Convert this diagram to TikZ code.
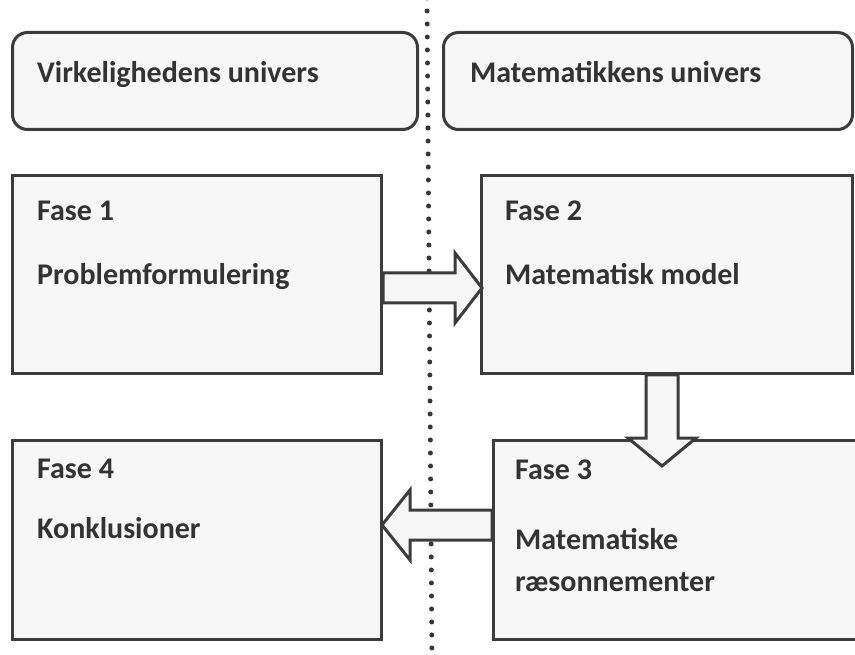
\documentclass[tikz,border=0pt]{standalone}
\usepackage{fontspec}
\setmainfont{Carlito}
\usetikzlibrary{calc}
\definecolor{edge}{HTML}{3C3C3C}
\definecolor{boxfill}{HTML}{F7F7F7}
\begin{document}
\begin{tikzpicture}[x=1pt,y=-1pt,
  box/.style={draw=edge,fill=boxfill,line width=3pt,anchor=north west,inner sep=0pt},
  rbox/.style={box,rounded corners=15pt},
  lbl/.style={anchor=base west,inner sep=0pt,text=edge!85!black,font=\fontsize{30}{36}\selectfont\bfseries},
  blockarrow/.style={draw=edge,fill=boxfill,line width=3pt,line join=miter},
  divider/.style={draw=edge!90!black,line width=5pt,line cap=round,dash pattern=on 0pt off 13pt}]
\useasboundingbox (0,0) rectangle (855,655);
\fill[white] (0,0) rectangle (855,655);
% divider
\coordinate (dtop) at (427,-2);
\coordinate (dbot) at (432,660);
\draw[divider] (dtop) -- (dbot);
% header boxes
\node[rbox,minimum width=405pt,minimum height=97pt] (tl) at (11,31) {};
\node[rbox,minimum width=409pt,minimum height=97pt] (tr) at (442,31) {};
\node[lbl] (tlt) at (37,83) {Virkelighedens univers};
\node[lbl] (trt) at (470,83) {Matematikkens univers};
% phase boxes
\node[box,minimum width=369pt,minimum height=198pt] (f1) at (11,174) {};
\node[box,minimum width=371pt,minimum height=198pt] (f2) at (480,174) {};
\node[box,minimum width=369pt,minimum height=199pt] (f4) at (11,439) {};
\node[box,minimum width=380pt,minimum height=199pt] (f3) at (492,439) {};
\node[lbl] (f1a) at (37,221) {Fase 1};
\node[lbl] (f1b) at (37,285) {Problemformulering};
\node[lbl] (f2a) at (505,221) {Fase 2};
\node[lbl] (f2b) at (505,285) {Matematisk model};
\node[lbl] (f4a) at (37,478) {Fase 4};
\node[lbl] (f4b) at (37,538) {Konklusioner};
\node[lbl] (f3a) at (515,479) {Fase 3};
\node[lbl] (f3b) at (515,549) {Matematiske};
\node[lbl] (f3c) at (515,591) {ræsonnementer};
% arrow 1 -> 2
\coordinate (a1s) at (f1.east |- 0,288);
\coordinate (a1t) at (482,288);
\draw[blockarrow] ($(a1s)+(0,-15)$) -- ($(a1t)+(-27,-15)$) -- ($(a1t)+(-27,-35)$) -- (a1t)
  -- ($(a1t)+(-27,35)$) -- ($(a1t)+(-27,15)$) -- ($(a1s)+(0,15)$) -- cycle;
% arrow 2 -> 3
\coordinate (a2s) at (f2.south -| 662,0);
\coordinate (a2t) at (662,466);
\draw[blockarrow] ($(a2s)+(-16,0)$) -- ($(a2t)+(-16,-28)$) -- ($(a2t)+(-34,-28)$) -- (a2t)
  -- ($(a2t)+(34,-28)$) -- ($(a2t)+(16,-28)$) -- ($(a2s)+(16,0)$) -- cycle;
% arrow 3 -> 4
\coordinate (a3s) at (f3.west |- 0,525);
\coordinate (a3t) at (382,525);
\draw[blockarrow] ($(a3s)+(0,-15)$) -- ($(a3t)+(28,-15)$) -- ($(a3t)+(28,-35)$) -- (a3t)
  -- ($(a3t)+(28,35)$) -- ($(a3t)+(28,15)$) -- ($(a3s)+(0,15)$) -- cycle;
\end{tikzpicture}
\end{document}
